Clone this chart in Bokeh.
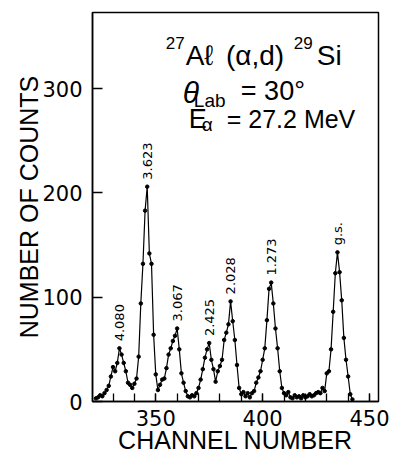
from bokeh.plotting import figure
from bokeh.models import Range1d, FixedTicker, Label, ColumnDataSource
from bokeh.embed import file_html
from bokeh.resources import INLINE
from bokeh.core.properties import value
import math

# ---- data ----
channels = list(range(322, 443))
counts = [
    3, 4, 6, 5, 8, 11, 15, 24, 33, 29,          # 322-331
    37, 51, 45, 37, 29, 18, 16, 13, 17, 22,     # 332-341
    43, 94, 132, 183, 206, 142, 132, 64, 26, 11,  # 342-351
    16, 21, 22, 32, 45, 51, 58, 63, 70, 50,     # 352-361
    27, 18, 10, 5, 4, 6, 5, 8, 13, 21,          # 362-371
    31, 42, 50, 56, 40, 31, 19, 29, 34, 40,     # 372-381
    59, 66, 74, 96, 77, 59, 35, 13, 7, 9,       # 382-391
    5, 8, 4, 8, 10, 18, 23, 29, 40, 51,         # 392-401
    78, 108, 114, 94, 70, 51, 29, 13, 8, 6,     # 402-411
    9, 4, 3, 6, 4, 5, 3, 6, 4, 5,               # 412-421
    7, 5, 6, 8, 9, 8, 13, 10, 27, 29,           # 422-431
    50, 86, 123, 143, 124, 97, 61, 40, 24, 7,   # 432-441
    2,                                          # 442
]
assert len(counts) == len(channels)

peak_channels = [333, 346, 360, 375, 385, 404, 435]
peak_labels = ["4.080", "3.623", "3.067", "2.425", "2.028", "1.273", "g.s."]

x_major_ticks = [350, 400, 450]
x_minor_ticks = list(range(330, 451, 10))
y_ticks = [0, 100, 200, 300]

# ---- figure ----
p = figure(width=393, height=457,
           x_range=Range1d(320.4, 454.2), y_range=Range1d(0, 373),
           output_backend="svg", toolbar_location=None, title=None,
           min_border_left=92, min_border_right=15,
           min_border_top=12, min_border_bottom=56)
p.background_fill_color = "white"
p.border_fill_color = "white"
p.grid.visible = False
p.outline_line_color = "black"
p.outline_line_width = 1.5

src = ColumnDataSource(dict(x=channels, y=counts))
p.line("x", "y", source=src, line_color="black", line_width=1.2)
p.scatter("x", "y", source=src, size=3.5, color="black")

lookup = dict(zip(channels, counts))
lab_src = ColumnDataSource(dict(x=peak_channels,
                                y=[lookup[c] for c in peak_channels],
                                t=peak_labels))
p.text("x", "y", text="t", source=lab_src, angle=math.pi / 2,
       text_align="left", text_baseline="middle", y_offset=-7,
       text_font=value("DejaVu Sans"), text_font_size="13px",
       text_color="black")

# ---- axes ----
xa = p.xaxis[0]
xa.ticker = FixedTicker(ticks=x_major_ticks, minor_ticks=x_minor_ticks)
xa.major_tick_in = 8
xa.major_tick_out = 0
xa.minor_tick_in = 8
xa.minor_tick_out = 0
xa.axis_line_width = 1.5
xa.major_tick_line_width = 1.3
xa.minor_tick_line_width = 1.3
xa.major_label_text_font = "DejaVu Sans"
xa.major_label_text_font_size = "21px"
xa.major_label_text_color = "black"
xa.major_label_standoff = 8
xa.axis_label = "CHANNEL NUMBER"
xa.axis_label_text_font = "Liberation Sans"
xa.axis_label_text_font_size = "25px"
xa.axis_label_text_font_style = "normal"
xa.axis_label_text_color = "black"
xa.axis_label_standoff = -3

ya = p.yaxis[0]
ya.ticker = FixedTicker(ticks=y_ticks, minor_ticks=[])
ya.major_tick_in = 10
ya.major_tick_out = 0
ya.minor_tick_in = 0
ya.minor_tick_out = 0
ya.axis_line_width = 1.5
ya.major_tick_line_width = 1.3
ya.major_label_text_font = "DejaVu Sans"
ya.major_label_text_font_size = "21px"
ya.major_label_text_color = "black"
ya.major_label_standoff = 10
ya.axis_label = "NUMBER OF COUNTS"
ya.axis_label_text_font = "Liberation Sans"
ya.axis_label_text_font_size = "25px"
ya.axis_label_text_font_style = "normal"
ya.axis_label_text_color = "black"
ya.axis_label_standoff = -4

# ---- title block inside the frame ----
def lab(text, x, y, size, style="normal"):
    p.add_layout(Label(x=x, y=y, text=text, text_font="Liberation Sans",
                       text_font_size=size, text_font_style=style,
                       text_color="black", text_baseline="alphabetic",
                       text_align="left"))

lab("27", 354.7, 344.0, "17px")
lab("A\u2113", 364.0, 331.7, "28px")
lab("(\u03b1,d)", 382.8, 331.7, "28px")
lab("29", 414.6, 344.0, "17px")
lab("Si", 425.3, 331.7, "28px")

lab("\u03b8", 362.6, 296.3, "30px", "italic")
lab("Lab", 367.8, 288.6, "19px")
lab("= 30\u00b0", 389.8, 298.2, "27px")

lab("E", 365.4, 271.3, "27px")
lab("\u03b1", 371.5, 266.0, "19px")
lab("= 27.2 MeV", 383.2, 271.3, "25px")

open("out.html", "w").write(file_html(p, INLINE))
